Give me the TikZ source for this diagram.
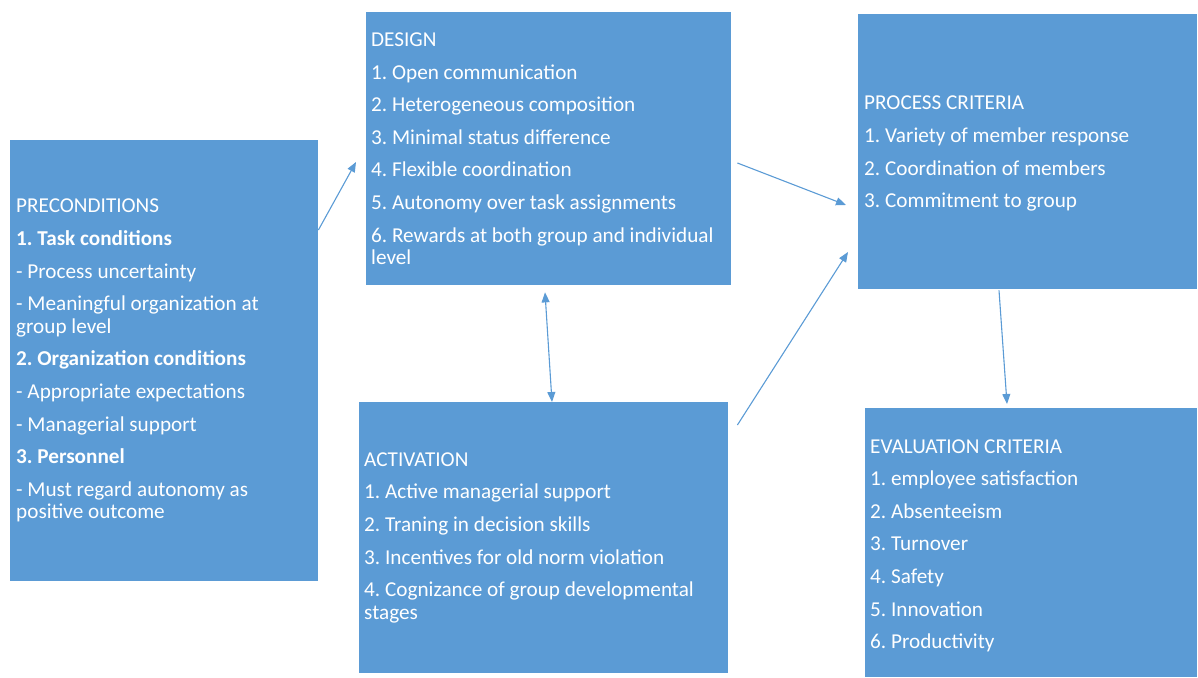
\documentclass[tikz,border=0pt]{standalone}
\usepackage{fontspec}
\setmainfont{Carlito}
\usetikzlibrary{arrows.meta,calc}
\definecolor{boxblue}{HTML}{5B9BD5}
\frenchspacing
\begin{document}
\begin{tikzpicture}[x=1pt,y=-1pt,
  panel/.style={rectangle, fill=boxblue, anchor=north west, inner sep=0pt},
  paneltext/.style={anchor=west, text=white, inner sep=0pt, align=left,
    font=\fontsize{21.2}{22.6}\selectfont},
  link/.style={draw=boxblue, line width=1.1pt,
    -{Triangle[length=10pt,width=8pt]}},
  dlink/.style={draw=boxblue, line width=1.1pt,
    {Triangle[length=10pt,width=8pt]}-{Triangle[length=10pt,width=8pt]}}]
\useasboundingbox (0,0) rectangle (1198,677);

% stage boxes
\node[panel, minimum width=308pt, minimum height=441pt] (pre) at (10,140) {};
\node[panel, minimum width=365pt, minimum height=273pt] (des) at (366,12) {};
\node[panel, minimum width=339pt, minimum height=275pt] (pro) at (858,14) {};
\node[panel, minimum width=369pt, minimum height=271pt] (act) at (359,402) {};
\node[panel, minimum width=332pt, minimum height=269pt] (eva) at (865,408) {};

% box contents
\node[paneltext] (pre-t) at ($(pre.west)+(6,0)$) {%
PRECONDITIONS\\[10pt]
\textbf{1. Task conditions}\\[10pt]
- Process uncertainty\\[10pt]
- Meaningful organization at\\
group level\\[10pt]
\textbf{2. Organization conditions}\\[10pt]
- Appropriate expectations\\[10pt]
- Managerial support\\[10pt]
\textbf{3. Personnel}\\[10pt]
- Must regard autonomy as\\
positive outcome};

\node[paneltext] (des-t) at ($(des.west)+(5,0)$) {%
DESIGN\\[10pt]
1. Open communication\\[10pt]
2. Heterogeneous composition\\[10pt]
3. Minimal status difference\\[10pt]
4. Flexible coordination\\[10pt]
5. Autonomy over task assignments\\[10pt]
6. Rewards at both group and individual\\
level};

\node[paneltext] (pro-t) at ($(pro.west)+(6,2)$) {%
PROCESS CRITERIA\\[10pt]
1. Variety of member response\\[10pt]
2. Coordination of members\\[10pt]
3. Commitment to group};

\node[paneltext] (act-t) at ($(act.west)+(5,0)$) {%
ACTIVATION\\[10pt]
1. Active managerial support\\[10pt]
2. Traning in decision skills\\[10pt]
3. Incentives for old norm violation\\[10pt]
4. Cognizance of group developmental\\
stages};

\node[paneltext] (eva-t) at ($(eva.west)+(5,3)$) {%
EVALUATION CRITERIA\\[10pt]
1. employee satisfaction\\[10pt]
2. Absenteeism\\[10pt]
3. Turnover\\[10pt]
4. Safety\\[10pt]
5. Innovation\\[10pt]
6. Productivity};

% connectors between the stages
\draw[link] ($(pre.north east)+(0,90)$) -- ($(des.north west)+(-10,150)$);
\draw[link] ($(des.north east)+(6,151)$) -- ($(pro.north west)+(-12,191)$);
\draw[dlink] ($(des.south west)+(179,7)$) -- ($(act.north west)+(193,0)$);
\draw[link] ($(act.north east)+(9,23)$) -- ($(pro.north west)+(-10,238)$);
\draw[link] ($(pro.south west)+(141,1)$) -- ($(eva.north west)+(142,-4)$);
\end{tikzpicture}
\end{document}
